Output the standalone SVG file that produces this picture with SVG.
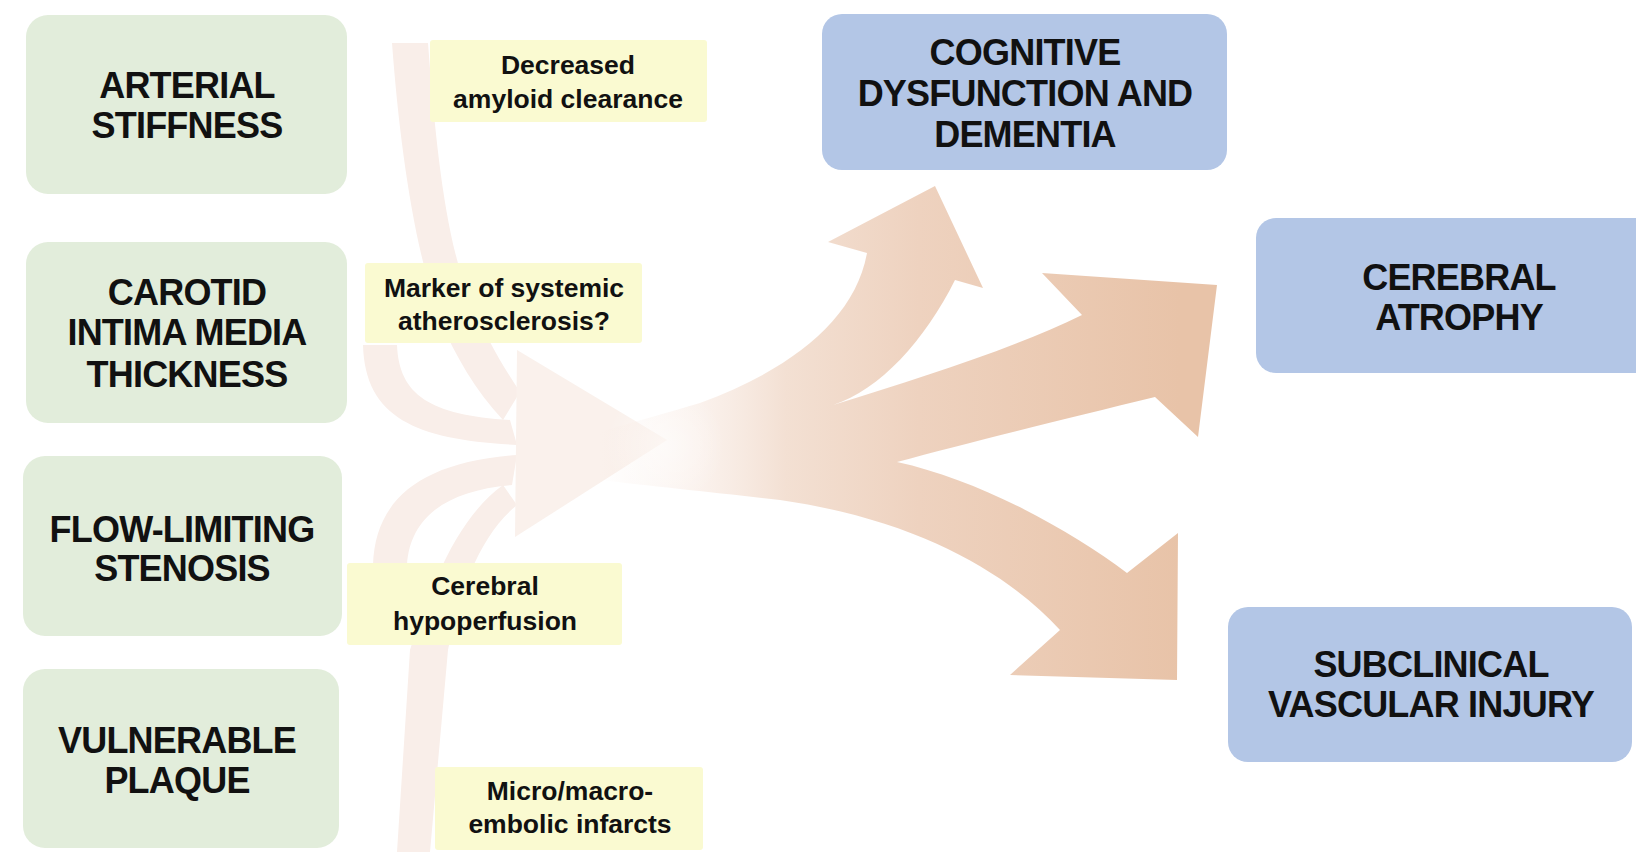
<svg xmlns="http://www.w3.org/2000/svg" width="1636" height="852" viewBox="0 0 1636 852">
<defs>
<style>
.g{fill:#e2eddb}
.b{fill:#b3c6e6}
.y{fill:#fafad1}
.t{font-family:"Liberation Sans",Arial,sans-serif;font-weight:bold;font-size:36px;letter-spacing:-0.8px;fill:#111;text-anchor:middle}
.s{font-family:"Liberation Sans",Arial,sans-serif;font-weight:bold;font-size:26.5px;fill:#111;text-anchor:middle}
.f{fill:#f9eee9}
</style>
<linearGradient id="peach" gradientUnits="userSpaceOnUse" x1="600" y1="0" x2="1180" y2="0">
<stop offset="0" stop-color="#f7e6dc" stop-opacity="0"/>
<stop offset="0.17" stop-color="#f7e7de" stop-opacity="0.55"/>
<stop offset="0.32" stop-color="#f3e0d3"/>
<stop offset="0.55" stop-color="#eed2bf"/>
<stop offset="1" stop-color="#e8c3a8"/>
</linearGradient>
<radialGradient id="glow" gradientUnits="userSpaceOnUse" cx="665" cy="445" r="60">
<stop offset="0" stop-color="#ffffff" stop-opacity="0.5"/>
<stop offset="1" stop-color="#ffffff" stop-opacity="0"/>
</radialGradient>
</defs>
<rect width="1636" height="852" fill="#ffffff"/>

<g id="connectors">
  <g id="faint-inputs">
    <path class="f" d="M392,43 L428,43 C436,150 446,240 470,300 C485,335 500,362 520,392 L503,420 C475,390 455,355 440,320 C415,250 400,150 392,43 Z"/>
    <path class="f" d="M363,345 L397,345 C399,395 430,415 510,420 L517,445 C420,440 365,420 363,345 Z"/>
    <path class="f" d="M373,565 C375,500 420,462 517,455 L512,485 C450,490 410,515 407,565 Z"/>
    <path class="f" d="M397,852 L430,852 L448,650 C460,590 480,535 517,505 L503,485 C455,520 430,590 410,650 Z"/>
    <path fill="#faf1ec" d="M517,350 L667,440 L515,537 Z"/>
  </g>
  <path id="outputs" fill="url(#peach)" d="M600,432 C640,420 670,412 700,403 C790,370 855,320 867,253 L828,242 L935,186 L983,288 L955,280 C925,340 880,390 833,405 C920,378 1010,350 1082,315 L1042,273 L1217,285 L1198,437 L1155,397 C1060,420 960,445 897,462 C980,480 1070,530 1127,573 L1178,533 L1177,680 L1010,675 L1060,630 C1010,575 920,520 780,500 C720,493 650,486 600,480 Z"/>
  <rect x="595" y="380" width="140" height="130" fill="url(#glow)"/>
</g>

<g id="n-arterial">
  <rect class="g" x="26" y="15" width="321" height="179" rx="22"/>
  <text class="t" x="187" y="98">ARTERIAL</text>
  <text class="t" x="187" y="138">STIFFNESS</text>
</g>
<g id="n-carotid">
  <rect class="g" x="26" y="242" width="321" height="181" rx="22"/>
  <text class="t" x="187" y="305">CAROTID</text>
  <text class="t" x="187" y="345">INTIMA MEDIA</text>
  <text class="t" x="187" y="387">THICKNESS</text>
</g>
<g id="n-flow">
  <rect class="g" x="23" y="456" width="319" height="180" rx="22"/>
  <text class="t" x="182" y="542">FLOW-LIMITING</text>
  <text class="t" x="182" y="581">STENOSIS</text>
</g>
<g id="n-plaque">
  <rect class="g" x="23" y="669" width="316" height="179" rx="22"/>
  <text class="t" x="177" y="753">VULNERABLE</text>
  <text class="t" x="177" y="793">PLAQUE</text>
</g>

<g id="n-amyloid">
  <rect class="y" x="430" y="40" width="277" height="82" rx="3"/>
  <text class="s" x="568" y="74">Decreased</text>
  <text class="s" x="568" y="108">amyloid clearance</text>
</g>
<g id="n-marker">
  <rect class="y" x="365" y="263" width="277" height="80" rx="3"/>
  <text class="s" x="504" y="297">Marker of systemic</text>
  <text class="s" x="504" y="330">atherosclerosis?</text>
</g>
<g id="n-hypo">
  <rect class="y" x="347" y="563" width="275" height="82" rx="3"/>
  <text class="s" x="485" y="595">Cerebral</text>
  <text class="s" x="485" y="630">hypoperfusion</text>
</g>
<g id="n-embolic">
  <rect class="y" x="435" y="767" width="268" height="83" rx="3"/>
  <text class="s" x="570" y="800">Micro/macro-</text>
  <text class="s" x="570" y="833">embolic infarcts</text>
</g>

<g id="n-cognitive">
  <rect class="b" x="822" y="14" width="405" height="156" rx="20"/>
  <text class="t" x="1025" y="65">COGNITIVE</text>
  <text class="t" x="1025" y="106">DYSFUNCTION AND</text>
  <text class="t" x="1025" y="147">DEMENTIA</text>
</g>
<g id="n-atrophy">
  <rect class="b" x="1256" y="218" width="400" height="155" rx="20"/>
  <text class="t" x="1459" y="290">CEREBRAL</text>
  <text class="t" x="1459" y="330">ATROPHY</text>
</g>
<g id="n-subclinical">
  <rect class="b" x="1228" y="607" width="404" height="155" rx="20"/>
  <text class="t" x="1431" y="677">SUBCLINICAL</text>
  <text class="t" x="1431" y="717">VASCULAR INJURY</text>
</g>
</svg>
